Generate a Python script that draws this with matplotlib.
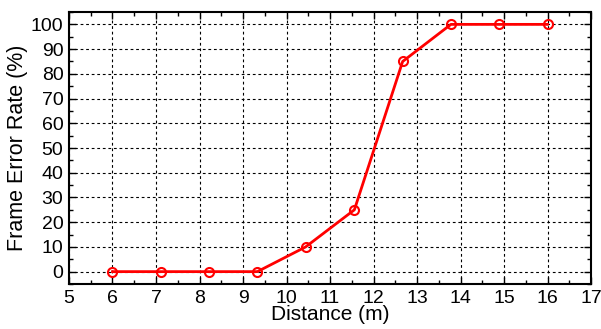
import matplotlib
matplotlib.use('Agg')
import matplotlib.pyplot as plt
from matplotlib.ticker import MultipleLocator

plt.rcParams['font.family'] = ['Liberation Sans', 'DejaVu Sans']

# distance (m) vs frame error rate (%)
distance = [6, 7.11, 8.22, 9.33, 10.44, 11.56, 12.67, 13.78, 14.89, 16]
fer = [0, 0, 0, 0, 10, 25, 85, 100, 100, 100]

fig = plt.figure(figsize=(6.01, 3.29), dpi=100)
ax = fig.add_axes([0.1148, 0.1368, 0.8686, 0.8267])

ax.plot(distance, fer, color='red', linewidth=2, marker='o', markersize=6.5,
        markerfacecolor='none', markeredgecolor='red', markeredgewidth=1.5)

ax.set_xlim(5, 17)
ax.set_ylim(-5, 105)
ax.xaxis.set_major_locator(MultipleLocator(1))
ax.xaxis.set_minor_locator(MultipleLocator(0.5))
ax.yaxis.set_major_locator(MultipleLocator(10))
ax.yaxis.set_minor_locator(MultipleLocator(5))

ax.grid(True, which='major', linestyle=(0, (2.5, 2.5)), color='black', linewidth=0.8)
ax.tick_params(which='both', direction='in', top=True, right=True, labelsize=14)
ax.tick_params(which='major', length=5, width=1, pad=4)
ax.tick_params(which='minor', length=3, width=1)
for s in ax.spines.values():
    s.set_linewidth(1.5)

ax.set_xlabel('Distance (m)', fontsize=15, labelpad=-1)
ax.set_ylabel('Frame Error Rate (%)', fontsize=15.5, labelpad=2)

fig.savefig('out.png', dpi=100)
